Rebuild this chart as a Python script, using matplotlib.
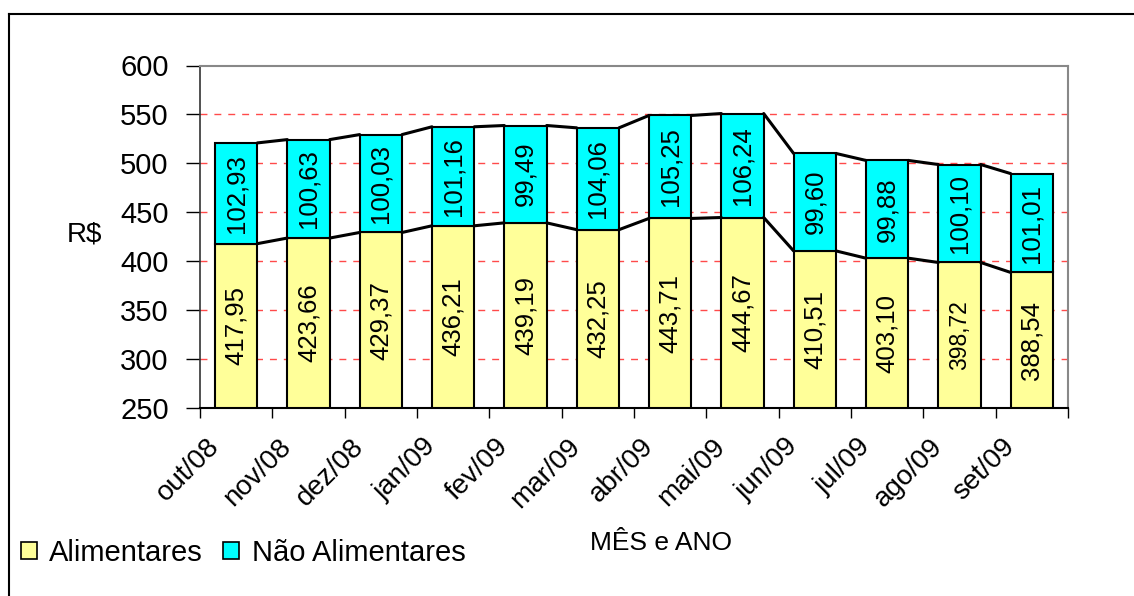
import numpy as np
import matplotlib
matplotlib.use('Agg')
from matplotlib import pyplot as plt
from matplotlib.lines import Line2D
from matplotlib.patches import Patch
from matplotlib.transforms import ScaledTranslation

meses = ['out/08', 'nov/08', 'dez/08', 'jan/09', 'fev/09', 'mar/09',
         'abr/09', 'mai/09', 'jun/09', 'jul/09', 'ago/09', 'set/09']
alimentares = [417.95, 423.66, 429.37, 436.21, 439.19, 432.25,
               443.71, 444.67, 410.51, 403.10, 398.72, 388.54]
nao_alimentares = [102.93, 100.63, 100.03, 101.16, 99.49, 104.06,
                   105.25, 106.24, 99.60, 99.88, 100.10, 101.01]
y_ticks = [250, 300, 350, 400, 450, 500, 550, 600]

plt.rcParams['font.family'] = ['Liberation Sans', 'DejaVu Sans']

W, H = 1134, 596
fig = plt.figure(figsize=(W / 100, H / 100), dpi=100)
ax = fig.add_axes([200 / W, 1 - 408 / H, 868 / W, (408 - 65.5) / H])

x = np.arange(len(meses))
larg = 0.586
alim = np.array(alimentares)
nao = np.array(nao_alimentares)
total = alim + nao

ax.bar(x, alim - 250, larg, bottom=250, color='#FFFF99', edgecolor='black', linewidth=1.5, zorder=3)
ax.bar(x, nao, larg, bottom=alim, color='#00FFFF', edgecolor='black', linewidth=1.5, zorder=3)

# linhas de serie entre as barras
for i in range(len(x) - 1):
    xs = [x[i] + larg / 2, x[i + 1] - larg / 2]
    ax.plot(xs, [alim[i], alim[i + 1]], color='black', lw=2.2, zorder=4, solid_capstyle='round')
    ax.plot(xs, [total[i], total[i + 1]], color='black', lw=2.2, zorder=4, solid_capstyle='round')

def fmt(v):
    return f'{v:.2f}'.replace('.', ',')

for i in range(len(x)):
    tam = 16.5 if i == 10 else 18.5
    ax.text(x[i], (250 + alim[i]) / 2, fmt(alim[i]), rotation=90, ha='center', va='center',
            fontsize=tam, zorder=5)
    ax.text(x[i], alim[i] + nao[i] / 2, fmt(nao[i]), rotation=90, ha='center', va='center',
            fontsize=18.5, zorder=5)

ax.set_xlim(-0.5, len(x) - 0.5)
ax.set_ylim(250, 600)
ax.set_yticks(y_ticks)
ax.tick_params(axis='y', labelsize=21, length=10, width=1, pad=12.5, direction='out')
for yv in y_ticks[1:-1]:
    ax.axhline(yv, color='#FF4a4a', lw=1, linestyle=(0, (5, 5)), zorder=1)

ax.set_xticks(x)
ax.set_xticklabels(meses, rotation=45, ha='right', va='center', rotation_mode='anchor', fontsize=20)
ax.set_xticks(np.arange(len(x) + 1) - 0.5, minor=True)
ax.tick_params(axis='x', which='major', length=0, pad=25)
ax.tick_params(axis='x', which='minor', length=7, width=1, direction='out')
desloc = ScaledTranslation(-21 / 100, 0, fig.dpi_scale_trans)
for lab in ax.get_xticklabels():
    lab.set_transform(lab.get_transform() + desloc)

for s in ['top', 'right']:
    ax.spines[s].set_color('#888888')
    ax.spines[s].set_linewidth(1.5)
ax.spines['left'].set_color('#333333')
ax.spines['bottom'].set_color('black')
ax.spines['left'].set_linewidth(1.2)
ax.spines['bottom'].set_linewidth(1.5)

ax.set_ylabel('R$', rotation=0, fontsize=20, ha='center', va='center')
ax.yaxis.set_label_coords((85 - 200) / 868, (408 - 234) / 342.5)
fig.text(661 / W, 1 - 543 / H, 'MÊS e ANO', ha='center', va='center', fontsize=19)

handles = [Patch(facecolor='#FFFF99', edgecolor='black', lw=1.2, label='Alimentares'),
           Patch(facecolor='#00FFFF', edgecolor='black', lw=1.2, label='Não Alimentares')]
fig.legend(handles=handles, loc='center left', bbox_to_anchor=(21 / W, 1 - 553 / H), ncol=2,
           frameon=False, fontsize=21, handlelength=0.55, handleheight=0.55, handletextpad=0.42,
           columnspacing=0.7, borderpad=0, borderaxespad=0)

# moldura da area do grafico
fig.add_artist(Line2D([8.5 / W, 1], [1 - 13.5 / H, 1 - 13.5 / H], transform=fig.transFigure, color='black', lw=1.5))
fig.add_artist(Line2D([8.5 / W, 8.5 / W], [0, 1 - 13.5 / H], transform=fig.transFigure, color='black', lw=1.5))

fig.savefig('out.png', dpi=100)
